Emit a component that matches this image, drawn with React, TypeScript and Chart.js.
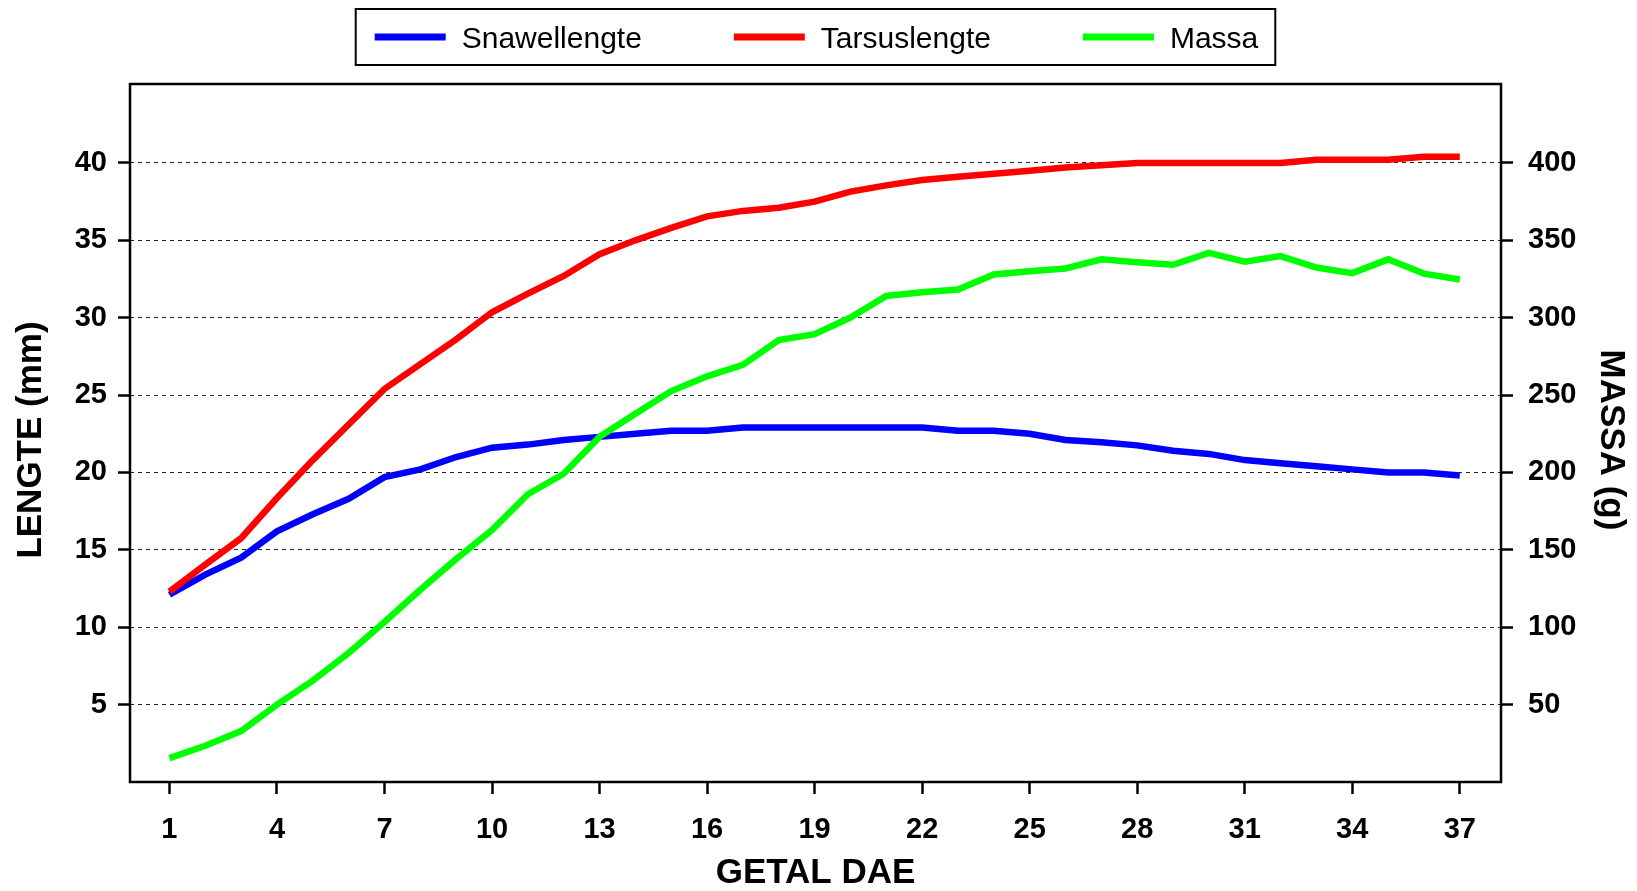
import React, { useEffect, useRef } from 'react';
import { Chart, registerables } from 'chart.js';

Chart.register(...registerables);

const FONT = "'Liberation Sans', Arial, Helvetica, sans-serif";

const days = [1, 2, 3, 4, 5, 6, 7, 8, 9, 10, 11, 12, 13, 14, 15, 16, 17, 18, 19, 20, 21, 22, 23, 24, 25, 26, 27, 28, 29, 30, 31, 32, 33, 34, 35, 36, 37];
const xTickValues = [1, 4, 7, 10, 13, 16, 19, 22, 25, 28, 31, 34, 37];
const lengthTicks = [5, 10, 15, 20, 25, 30, 35, 40];
const massTicks = [50, 100, 150, 200, 250, 300, 350, 400];

const snawellengte = [12.1, 13.4, 14.5, 16.2, 17.3, 18.3, 19.7, 20.2, 21.0, 21.6, 21.8, 22.1, 22.3, 22.5, 22.7, 22.7, 22.9, 22.9, 22.9, 22.9, 22.9, 22.9, 22.7, 22.7, 22.5, 22.1, 21.95, 21.75, 21.4, 21.2, 20.8, 20.6, 20.4, 20.2, 20.0, 20.0, 19.8];
const tarsuslengte = [12.3, 14.05, 15.75, 18.35, 20.8, 23.1, 25.4, 27.0, 28.6, 30.35, 31.55, 32.7, 34.1, 35.0, 35.8, 36.55, 36.9, 37.1, 37.5, 38.15, 38.55, 38.9, 39.1, 39.3, 39.5, 39.7, 39.85, 40.0, 40.0, 40.0, 40.0, 40.0, 40.2, 40.2, 40.2, 40.4, 40.4];
const massa = [15.4, 23.4, 32.9, 50, 65.5, 83.3, 103.4, 124.2, 144.1, 162.8, 185.9, 199.2, 223, 238, 252.6, 262.1, 269.5, 285.5, 289.4, 300.1, 314, 316.4, 318.2, 327.9, 330, 331.8, 337.7, 335.9, 334.2, 341.9, 336.2, 339.8, 332.4, 328.8, 337.7, 328.5, 324.7];

const seriesLabels = ['Snawellengte', 'Tarsuslengte', 'Massa'];
const seriesColors = ['#0000FF', '#FF0000', '#00FF00'];
const leftTitle = 'LENGTE (mm)';
const rightTitle = 'MASSA (g)';
const bottomTitle = 'GETAL DAE';

const toPoints = (vals: number[]) => days.map((d, i) => ({ x: d, y: vals[i] }));

const framePlugin = {
  id: 'frame',
  afterDraw(chart: any) {
    const { ctx, chartArea: a } = chart;
    ctx.save();
    ctx.strokeStyle = '#000';
    ctx.lineWidth = 2.5;
    ctx.strokeRect(a.left, a.top, a.right - a.left, a.bottom - a.top);
    ctx.restore();
  },
};

const sideTitlesPlugin = {
  id: 'sideTitles',
  afterDraw(chart: any) {
    const ctx = chart.ctx;
    ctx.save();
    ctx.font = `bold 35px ${FONT}`;
    ctx.fillStyle = '#000';
    ctx.textAlign = 'center';
    ctx.textBaseline = 'middle';
    ctx.save();
    ctx.translate(31.5, 440);
    ctx.rotate(-Math.PI / 2);
    ctx.fillText(leftTitle, 0, 0);
    ctx.restore();
    ctx.save();
    ctx.translate(1610.5, 440);
    ctx.rotate(Math.PI / 2);
    ctx.fillText(rightTitle, 0, 0);
    ctx.restore();
    ctx.restore();
  },
};

const boxLegendPlugin = {
  id: 'boxLegend',
  afterDraw(chart: any) {
    const ctx = chart.ctx;
    const a = chart.chartArea;
    ctx.save();
    ctx.font = `30px ${FONT}`;
    const items = chart.data.datasets.map((ds: any) => ({
      label: ds.label,
      color: ds.borderColor,
      w: ctx.measureText(ds.label).width,
    }));
    const lineLen = 71, gap = 16, itemGap = 92, padL = 19, padR = 17;
    let total = padL + padR;
    items.forEach((it: any, i: number) => {
      total += lineLen + gap + it.w + (i > 0 ? itemGap : 0);
    });
    const cx = (a.left + a.right) / 2;
    const x0 = cx - total / 2;
    ctx.lineWidth = 2;
    ctx.strokeStyle = '#000';
    ctx.strokeRect(x0, 9, total, 56);
    let cur = x0 + padL;
    const ly = 37;
    items.forEach((it: any) => {
      ctx.strokeStyle = it.color;
      ctx.lineWidth = 7;
      ctx.lineCap = 'butt';
      ctx.beginPath();
      ctx.moveTo(cur, ly);
      ctx.lineTo(cur + lineLen, ly);
      ctx.stroke();
      cur += lineLen + gap;
      ctx.fillStyle = '#000';
      ctx.textBaseline = 'alphabetic';
      ctx.textAlign = 'left';
      ctx.fillText(it.label, cur, 47.5);
      cur += it.w + itemGap;
    });
    ctx.restore();
  },
};

const tickFont = { family: FONT, size: 29, weight: 'bold' as const };
const titleFont = { family: FONT, size: 35, weight: 'bold' as const, lineHeight: 1.0 };

export default function App() {
  const ref = useRef<HTMLCanvasElement | null>(null);

  useEffect(() => {
    if (!ref.current) return;
    const chart = new Chart(ref.current, {
      type: 'line',
      data: {
        datasets: [
          {
            label: seriesLabels[0],
            data: toPoints(snawellengte),
            borderColor: seriesColors[0],
            backgroundColor: seriesColors[0],
            borderWidth: 6.5,
            pointRadius: 0,
            tension: 0,
            fill: false,
            yAxisID: 'y',
            order: 3,
          },
          {
            label: seriesLabels[1],
            data: toPoints(tarsuslengte),
            borderColor: seriesColors[1],
            backgroundColor: seriesColors[1],
            borderWidth: 6.5,
            pointRadius: 0,
            tension: 0,
            fill: false,
            yAxisID: 'y',
            order: 2,
          },
          {
            label: seriesLabels[2],
            data: toPoints(massa),
            borderColor: seriesColors[2],
            backgroundColor: seriesColors[2],
            borderWidth: 6.5,
            pointRadius: 0,
            tension: 0,
            fill: false,
            yAxisID: 'y1',
            order: 1,
          },
        ],
      },
      options: {
        responsive: false,
        animation: false,
        devicePixelRatio: 1,
        events: [],
        layout: { padding: { top: 84, left: 0, right: 0, bottom: 0 } },
        plugins: {
          legend: { display: false },
          tooltip: { enabled: false },
          title: { display: false },
        },
        scales: {
          x: {
            type: 'linear',
            position: 'bottom',
            min: -0.1,
            max: 38.15,
            afterBuildTicks: (s: any) => {
              s.ticks = xTickValues.map((v) => ({ value: v }));
            },
            afterFit: (s: any) => {
              s.height = 109;
            },
            ticks: {
              font: tickFont,
              color: '#000',
              padding: 19,
              maxRotation: 0,
              autoSkip: false,
              callback: (v: any) => String(v),
            },
            grid: {
              drawOnChartArea: false,
              drawTicks: true,
              tickLength: 12,
              tickWidth: 2.5,
              tickColor: '#000',
              tickBorderDash: [],
            },
            border: { display: false },
            title: {
              display: true,
              text: bottomTitle,
              font: titleFont,
              color: '#000',
              padding: { top: 0, bottom: 0 },
            },
          },
          y: {
            type: 'linear',
            position: 'left',
            min: 0,
            max: 45.1,
            afterBuildTicks: (s: any) => {
              s.ticks = lengthTicks.map((v) => ({ value: v }));
            },
            afterFit: (s: any) => {
              s.width = 130;
            },
            ticks: {
              font: tickFont,
              color: '#000',
              padding: 11,
              callback: (v: any) => String(v),
            },
            grid: {
              drawOnChartArea: true,
              color: '#222',
              lineWidth: 1,
              drawTicks: true,
              tickLength: 12,
              tickWidth: 2.5,
              tickColor: '#000',
              tickBorderDash: [],
            },
            border: { display: false, dash: [4, 4] },
          },
          y1: {
            type: 'linear',
            position: 'right',
            min: 0,
            max: 451,
            afterBuildTicks: (s: any) => {
              s.ticks = massTicks.map((v) => ({ value: v }));
            },
            afterFit: (s: any) => {
              s.width = 136;
            },
            ticks: {
              font: tickFont,
              color: '#000',
              padding: 15,
              callback: (v: any) => String(v),
            },
            grid: {
              drawOnChartArea: false,
              drawTicks: true,
              tickLength: 12,
              tickWidth: 2.5,
              tickColor: '#000',
              tickBorderDash: [],
            },
            border: { display: false },
          },
        },
      } as any,
      plugins: [framePlugin, sideTitlesPlugin, boxLegendPlugin],
    });
    return () => chart.destroy();
  }, []);

  return (
    <div style={{ position: 'fixed', left: 0, top: 0, width: 1637, height: 891, background: '#fff' }}>
      <canvas ref={ref} width={1637} height={891} style={{ display: 'block', width: 1637, height: 891 }} />
    </div>
  );
}
